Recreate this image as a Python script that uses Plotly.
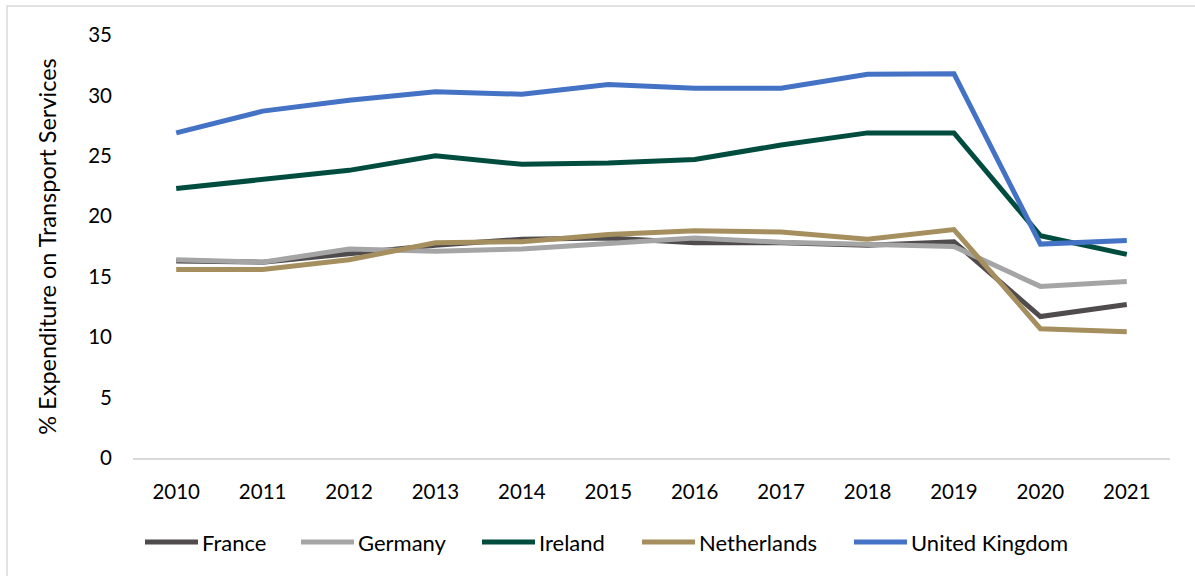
import plotly.graph_objects as go

years = ["2010", "2011", "2012", "2013", "2014", "2015", "2016", "2017", "2018", "2019", "2020", "2021"]

france = [16.3, 16.2, 16.9, 17.6, 18.1, 18.2, 17.8, 17.8, 17.6, 17.9, 11.7, 12.7]
germany = [16.4, 16.2, 17.3, 17.1, 17.3, 17.8, 18.2, 17.85, 17.7, 17.5, 14.2, 14.6]
ireland = [22.3, 23.1, 23.8, 25.0, 24.3, 24.4, 24.7, 25.9, 26.9, 26.9, 18.4, 16.85]
netherlands = [15.6, 15.6, 16.4, 17.8, 17.9, 18.5, 18.8, 18.7, 18.1, 18.9, 10.7, 10.45]
united_kingdom = [26.9, 28.7, 29.6, 30.3, 30.1, 30.9, 30.6, 30.6, 31.75, 31.8, 17.7, 18.0]

series_names = ["France", "Germany", "Ireland", "Netherlands", "United Kingdom"]
series_values = [france, germany, ireland, netherlands, united_kingdom]
series_colors = ["#504B4D", "#A5A5A5", "#004D3F", "#A68F5E", "#4472C4"]

FONT = "Lato"

# plot area in pixels (for placing the custom legend)
W, H = 1195, 576
L, R, T, B = 133, 25, 35, 118
PW, PH = W - L - R, H - T - B

def px_x(px):
    return (px - L) / PW

def px_y(py):
    return (H - B - py) / PH

legend_starts = [145, 301, 482, 642, 854]  # left pixel of each legend swatch
swatch_len = 53
legend_py = 542

fig = go.Figure()
for name, vals, color in zip(series_names, series_values, series_colors):
    fig.add_trace(go.Scatter(
        x=years, y=vals, name=name, mode="lines",
        line=dict(color=color, width=5),
        showlegend=False,
    ))

shapes = [dict(
    type="rect", xref="paper", yref="paper",
    x0=px_x(7), x1=px_x(1240), y0=px_y(620), y1=px_y(6),
    line=dict(color="#D9D9D9", width=1.5), fillcolor="rgba(0,0,0,0)",
    layer="below",
)]
annotations = []
for name, color, x0 in zip(series_names, series_colors, legend_starts):
    shapes.append(dict(
        type="line", xref="paper", yref="paper",
        x0=px_x(x0), x1=px_x(x0 + swatch_len), y0=px_y(legend_py), y1=px_y(legend_py),
        line=dict(color=color, width=5),
    ))
    annotations.append(dict(
        text=name, xref="paper", yref="paper",
        x=px_x(x0 + swatch_len + 2), y=px_y(legend_py),
        xanchor="left", yanchor="middle", showarrow=False,
        font=dict(family=FONT, size=22, color="#000000"),
    ))

fig.update_layout(
    width=W, height=H,
    margin=dict(l=L, r=R, t=T, b=B),
    paper_bgcolor="white", plot_bgcolor="white",
    font=dict(family=FONT, size=20, color="#000000"),
    showlegend=False,
    xaxis=dict(
        type="category", range=[-0.5, 11.5],
        showgrid=False, zeroline=False,
        showline=True, linecolor="#D9D9D9", linewidth=1.5,
        ticks="", ticklabelstandoff=15,
        tickfont=dict(family=FONT, size=20.5),
    ),
    yaxis=dict(
        range=[0, 35], tickvals=[0, 5, 10, 15, 20, 25, 30, 35],
        showgrid=False, zeroline=False, showline=False,
        ticks="", ticklabelstandoff=20,
        tickfont=dict(family=FONT, size=20.5),
        title=dict(text="% Expenditure on Transport Services",
                   font=dict(family=FONT, size=23.5), standoff=24),
    ),
    shapes=shapes,
    annotations=annotations,
)

fig.write_html(
    "out.html",
    config={"displayModeBar": False},
    post_script="document.body.style.margin='0px';document.body.style.overflow='hidden';",
)
